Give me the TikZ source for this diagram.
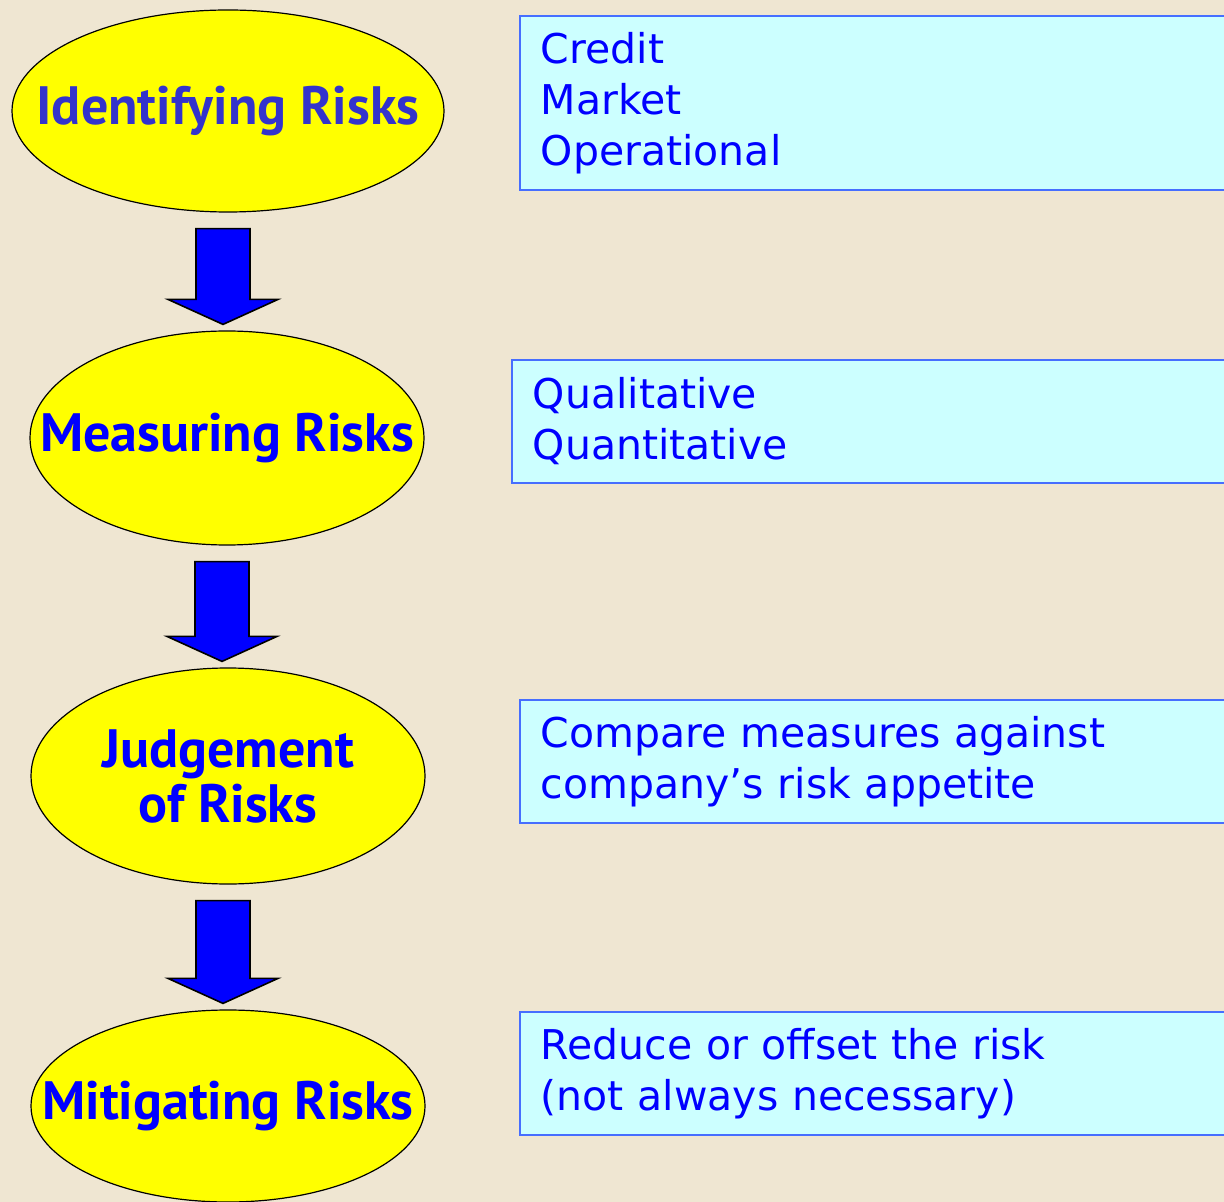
\documentclass[tikz,border=0pt]{standalone}
\usepackage{fontspec}
\usepackage{tikz}
\usetikzlibrary{shapes.geometric, calc}
\setmainfont{DejaVu Sans}
\newfontfamily\stepfont{PT Sans}
\definecolor{paper}{RGB}{239, 230, 210}
\definecolor{sun}{RGB}{255, 255, 0}
\definecolor{ink}{RGB}{0, 0, 255}
\definecolor{softink}{RGB}{51, 51, 204}
\definecolor{sky}{RGB}{204, 255, 255}
\definecolor{rim}{RGB}{70, 110, 255}
\tikzset{
  stage/.style={ellipse, draw=black, fill=sun, inner sep=0pt, line width=0.6pt},
  stagetext/.style={text=ink, align=center, inner sep=0pt,
    font=\stepfont\bfseries\fontsize{27}{27.5}\selectfont},
  notebox/.style={rectangle, draw=rim, fill=sky, line width=0.8pt, anchor=north west,
    minimum width=400pt, inner xsep=10.5pt, inner ysep=0pt, text width=379pt, align=left,
    text=ink, font=\fontsize{20.5}{25.5}\selectfont},
  bigarrow/.style={draw=black, fill=ink, line width=0.8pt, line join=miter}
}
% block arrow from one stage down to the next
\newcommand{\riskarrow}[2]{%
  \coordinate (#1top) at ($(#1.south)+(-5,16)$);
  \coordinate (#1tipy) at ($(#2.north)+(0,-6)$);
  \coordinate (#1tip) at (#1top |- #1tipy);
  \draw[bigarrow] ($(#1top)+(-27,0)$) -- ($(#1top)+(27,0)$)
    -- ($(#1tip)+(27,-25)$) -- ($(#1tip)+(55,-25)$) -- (#1tip)
    -- ($(#1tip)+(-55,-25)$) -- ($(#1tip)+(-27,-25)$) -- cycle;}

\begin{document}
\begin{tikzpicture}[x=0.5pt, y=-0.5pt]
  \clip (0, 0) rectangle (1224, 1202);
  \fill[paper] (0, 0) rectangle (1224, 1202);

  % the four stages
  \node[stage, minimum width=216pt, minimum height=101pt] (ident) at (228, 111) {};
  \node[stagetext, text=softink] (identtext) at (ident) {Identifying Risks};
  \node[stage, minimum width=197pt, minimum height=107pt] (measure) at (227, 438) {};
  \node[stagetext] (measuretext) at (measure) {Measuring Risks};
  \node[stage, minimum width=197pt, minimum height=108pt] (judge) at (228, 776) {};
  \node[stagetext] (judgetext) at (judge) {Judgement\\of Risks};
  \node[stage, minimum width=197pt, minimum height=96pt] (mitig) at (228, 1106) {};
  \node[stagetext] (mitigtext) at (mitig) {Mitigating Risks};

  \riskarrow{ident}{measure}
  \riskarrow{measure}{judge}
  \riskarrow{judge}{mitig}

  % notes on the right
  \node[notebox, minimum height=87pt] (identbox) at (519, 15) {Credit\\Market\\Operational};
  \node[notebox, minimum height=61.5pt] (measurebox) at (511, 359) {Qualitative\\Quantitative};
  \node[notebox, minimum height=61.5pt] (judgebox) at (519, 699) {Compare measures against\\company’s risk appetite};
  \node[notebox, minimum height=61.5pt] (mitigbox) at (519, 1011) {Reduce or offset the risk\\(not always necessary)};
\end{tikzpicture}
\end{document}
